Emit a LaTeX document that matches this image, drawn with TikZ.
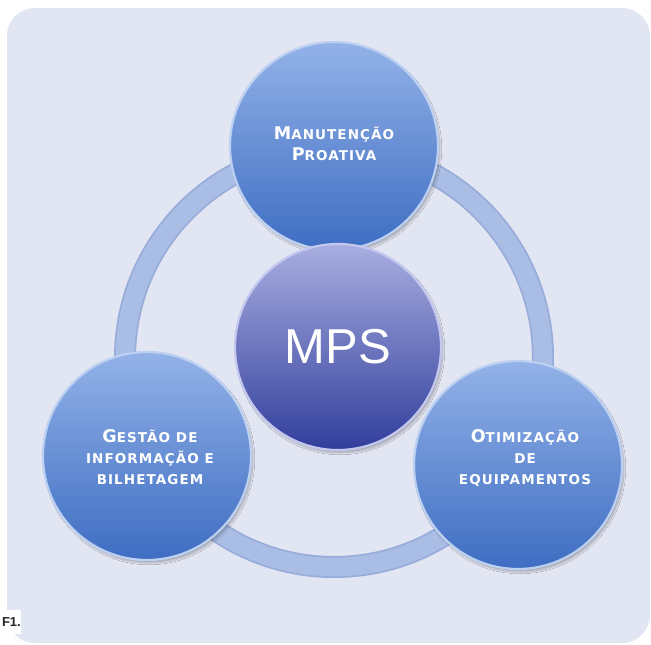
\documentclass[tikz,border=0pt]{standalone}
\usepackage{fontspec}
\usetikzlibrary{shadows.blur}
\newfontfamily\lblfont[LetterSpace=8]{DejaVu Sans}
\newfontfamily\mpsfont{Liberation Sans}
\definecolor{bgc}{HTML}{E2E5F2}
\definecolor{ringfill}{HTML}{AABDE4}
\definecolor{ringedge}{HTML}{98ACDB}
\definecolor{bluetop}{HTML}{93B2E8}
\definecolor{bluebot}{HTML}{3E6DC2}
\definecolor{bluerim}{HTML}{BCD0F2}
\definecolor{mpstop}{HTML}{A8AEE0}
\definecolor{mpsbot}{HTML}{323E9C}
\definecolor{mpsrim}{HTML}{C4C8EE}
\newcommand\capword[2]{{\fontsize{17.5}{21}\selectfont #1}#2}
\tikzset{
  bluedisc/.style={circle, minimum size=208pt, inner sep=0pt, top color=bluetop, bottom color=bluebot, draw=bluerim, line width=2.2pt,
    blur shadow={shadow xshift=2pt, shadow yshift=-3pt, shadow blur steps=6, shadow opacity=25}},
  mpsdisc/.style={circle, minimum size=206pt, inner sep=0pt, top color=mpstop, bottom color=mpsbot, draw=mpsrim, line width=2.2pt,
    blur shadow={shadow xshift=2pt, shadow yshift=-3pt, shadow blur steps=6, shadow opacity=25}},
  lbltext/.style={text=white, align=center, font=\lblfont\bfseries\fontsize{13.5}{21}\selectfont, inner sep=0pt},
  mpstext/.style={text=white, font=\mpsfont\fontsize{49}{52}\selectfont, inner sep=0pt},
}
\begin{document}
\begin{tikzpicture}[x=1pt,y=-1pt]
\useasboundingbox (0,0) rectangle (651,645);
\fill[white] (0,0) rectangle (651,645);
\fill[bgc, rounded corners=28pt] (7,8) rectangle (650,643);
% ring
\coordinate (ringc) at (334,358);
\draw[ringedge, line width=22pt] (ringc) circle (209);
\draw[ringfill, line width=18.5pt] (ringc) circle (209);
% discs
\node[bluedisc] (top) at (334,146) {};
\node[bluedisc] (left) at (147,456) {};
\node[bluedisc] (right) at (518,465) {};
\node[mpsdisc] (mps) at (338,347) {};
% texts
\node[lbltext] (toptx) at ([yshift=2pt]top.center) {\capword{M}{ANUTENÇÃO}\\\capword{P}{ROATIVA}};
\node[lbltext] (lefttx) at ([xshift=3pt,yshift=-1pt]left.center) {\capword{G}{ESTÃO DE}\\INFORMAÇÃO E\\BILHETAGEM};
\node[lbltext] (righttx) at ([xshift=7pt,yshift=7pt]right.center) {\capword{O}{TIMIZAÇÃO}\\DE\\EQUIPAMENTOS};
\node[mpstext] (mpstx) at (mps.center) {MPS};
% F1 tag
\fill[white] (0,610) rectangle (21,634);
\node[anchor=east, font=\mpsfont\bfseries\fontsize{13}{15}\selectfont, text=black!85, inner sep=0pt] (ftag) at (21,622) {F1.};
\end{tikzpicture}
\end{document}
